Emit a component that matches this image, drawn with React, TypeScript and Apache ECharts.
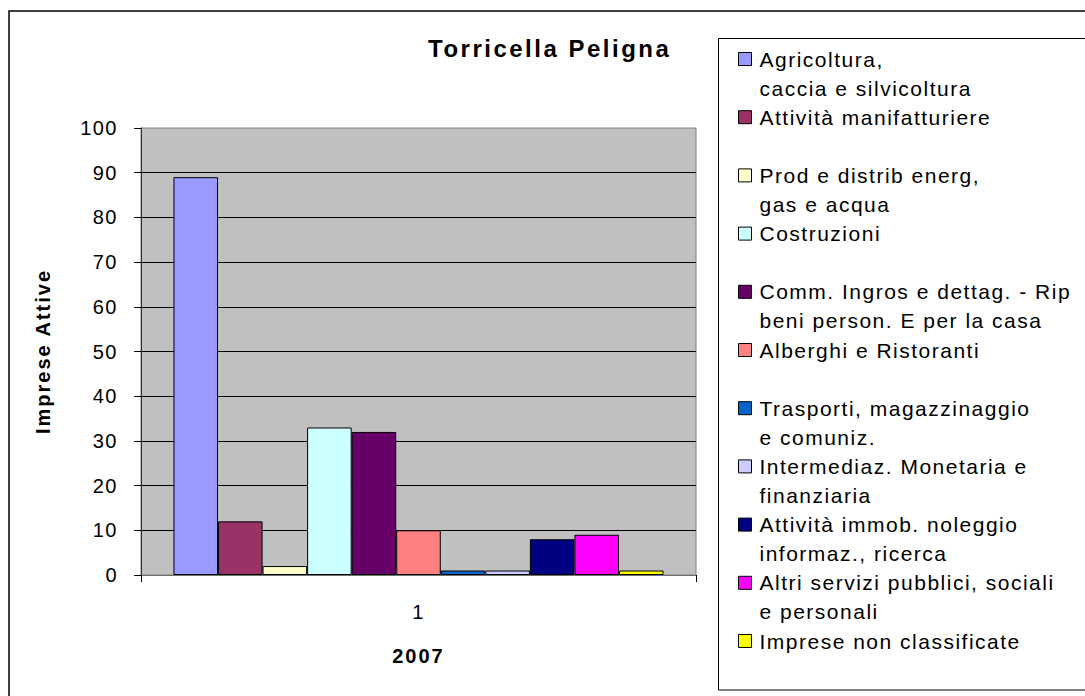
import React, { useEffect, useRef } from 'react';
import * as echarts from 'echarts';

const categories = ['1'];
const sectorNames = [
  'Agricoltura,\ncaccia e silvicoltura',
  'Attività manifatturiere',
  'Prod e distrib energ,\ngas e acqua',
  'Costruzioni',
  'Comm. Ingros e dettag. - Rip\nbeni person. E per la casa',
  'Alberghi e Ristoranti',
  'Trasporti, magazzinaggio\ne comuniz.',
  'Intermediaz. Monetaria e\nfinanziaria',
  'Attività immob. noleggio\ninformaz., ricerca',
  'Altri servizi pubblici, sociali\ne personali',
  'Imprese non classificate',
];
const sectorValues = [89, 12, 2, 33, 32, 10, 1, 1, 8, 9, 1];
const sectorColors = [
  '#9999FF', '#993366', '#FFFFCC', '#CCFFFF', '#660066', '#FF8080',
  '#0066CC', '#CCCCFF', '#000080', '#FF00FF', '#FFFF00',
];
const yMin = 0;
const yMax = 100;
const yInterval = 10;
const titleText = 'Torricella Peligna';
const yAxisName = 'Imprese Attive';
const xAxisName = '2007';

const FONT = '"Liberation Sans", Arial, sans-serif';

export default function App() {
  const ref = useRef<HTMLDivElement>(null);

  useEffect(() => {
    document.body.style.margin = '0';
    if (!ref.current) return;
    const chart = echarts.init(ref.current, undefined, { renderer: 'svg' });

    const series = sectorNames.map((name, i) => ({
      name,
      type: 'bar' as const,
      data: [sectorValues[i]],
      barGap: '0%',
      barCategoryGap: '11.7%',
      itemStyle: { color: sectorColors[i], borderColor: '#000', borderWidth: 1 },
    }));

    chart.setOption({
      animation: false,
      backgroundColor: '#fff',
      textStyle: { fontFamily: FONT },
      title: {
        text: titleText,
        left: 428,
        top: 36,
        padding: 0,
        textStyle: { fontSize: 24, fontWeight: 'bold', color: '#000', fontFamily: FONT },
      },
      grid: {
        left: 141,
        top: 128,
        width: 555,
        height: 447,
        show: true,
        backgroundColor: '#C0C0C0',
        borderColor: '#808080',
        borderWidth: 1,
      },
      legend: {
        orient: 'vertical',
        left: 738,
        top: 15.5,
        padding: 0,
        itemGap: -28.8,
        itemWidth: 19,
        itemHeight: 13,
        icon: 'path://M0,0L13,0L13,13L0,13Z',
        selectedMode: false,
        itemStyle: { borderColor: '#000', borderWidth: 1 },
        formatter: (name: string) => {
          const lines = name.split('\n');
          if (lines.length < 2) lines.push(' ');
          return lines.map((l) => '{t|' + l + '}').join('\n');
        },
        textStyle: {
          color: '#000',
          fontFamily: FONT,
          padding: [29, 0, 0, 0],
          backgroundColor: 'rgba(0,0,0,0)',
          rich: {
            t: { fontSize: 21, lineHeight: 29, color: '#000', fontFamily: FONT },
          },
        },
        data: sectorNames,
      },
      xAxis: {
        type: 'category',
        data: categories,
        axisLine: { show: true, lineStyle: { color: '#707070', width: 1 } },
        axisTick: { show: true, length: 7, lineStyle: { color: '#000' } },
        axisLabel: { fontSize: 20, color: '#000', margin: 27, fontFamily: FONT },
        name: xAxisName,
        nameLocation: 'middle',
        nameGap: 71,
        nameTextStyle: { fontSize: 20, fontWeight: 'bold', color: '#000', fontFamily: FONT },
      },
      yAxis: {
        type: 'value',
        min: yMin,
        max: yMax,
        interval: yInterval,
        axisLine: { show: true, lineStyle: { color: '#303030', width: 1 } },
        axisTick: { show: true, length: 7, lineStyle: { color: '#000' } },
        axisLabel: { fontSize: 20, color: '#000', margin: 23, fontFamily: FONT },
        splitLine: { show: true, showMaxLine: false, showMinLine: false, lineStyle: { color: '#000', width: 1 } },
        name: yAxisName,
        nameLocation: 'middle',
        nameGap: 88,
        nameTextStyle: { fontSize: 20, fontWeight: 'bold', color: '#000', fontFamily: FONT },
      },
      graphic: [
        {
          type: 'rect',
          silent: true,
          shape: { x: 9, y: 11, width: 1300, height: 900 },
          style: { fill: 'none', stroke: '#000', lineWidth: 1.5 },
        },
        {
          type: 'rect',
          silent: true,
          shape: { x: 718.5, y: 38.5, width: 600, height: 651.5 },
          style: { fill: 'none', stroke: '#000', lineWidth: 1 },
        },
      ],
      series,
    });

    return () => chart.dispose();
  }, []);

  return (
    <>
      <style>{`#chartbox svg text{letter-spacing:1.5px}#chartbox svg text[style*="bold"]{letter-spacing:2px}#chartbox svg text[style*="bold"][style*="24px"]{letter-spacing:2.5px}`}</style>
      <div id="chartbox" ref={ref} style={{ width: 1085, height: 696 }} />
    </>
  );
}
